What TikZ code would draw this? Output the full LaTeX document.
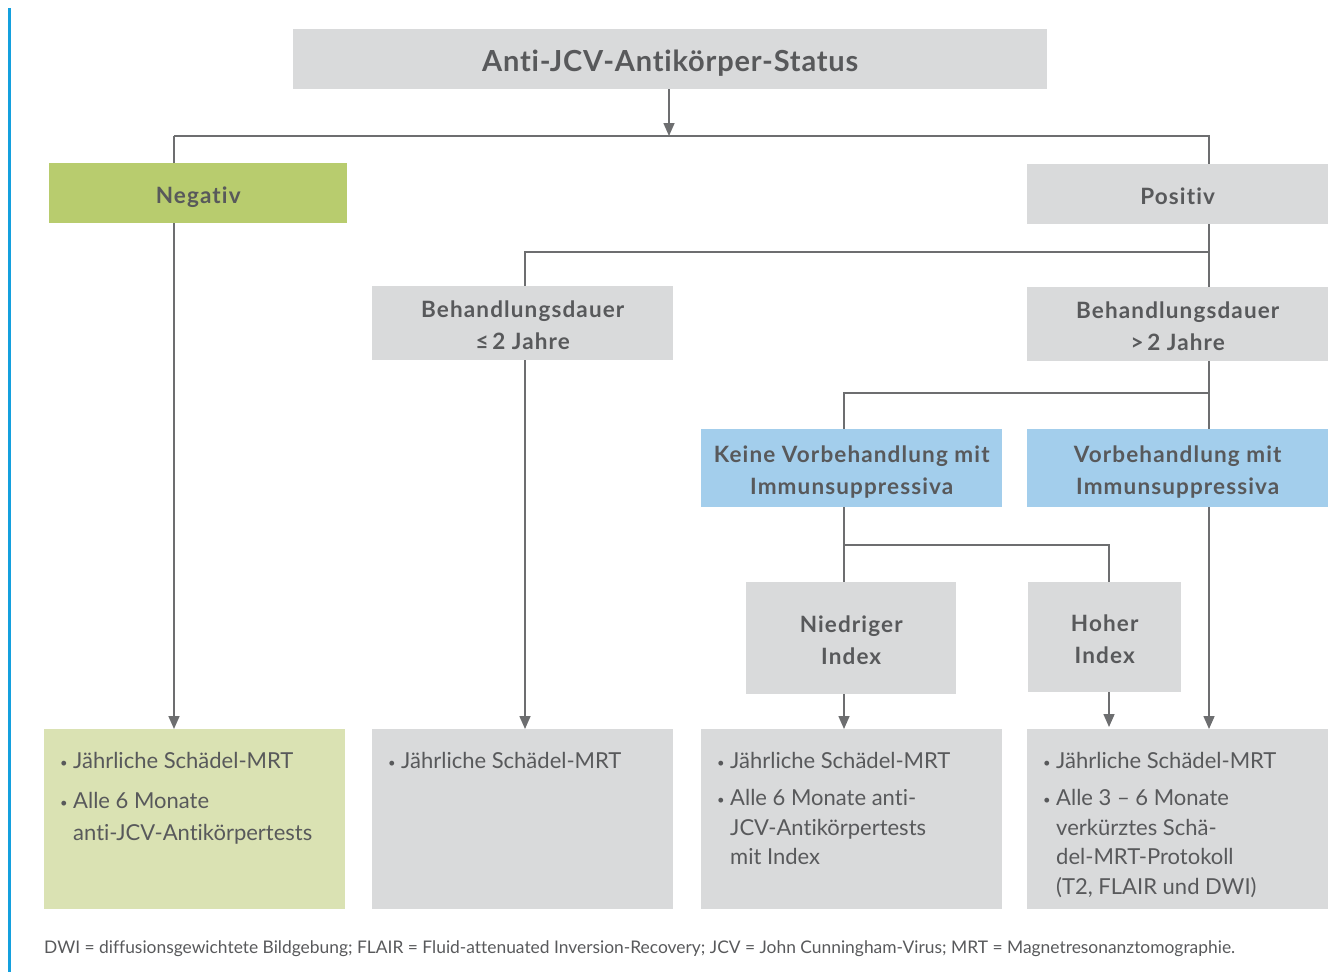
\documentclass[tikz,border=0pt]{standalone}
\usepackage{fontspec}
\setmainfont{Lato}[Ligatures=NoCommon]
\usetikzlibrary{arrows.meta,backgrounds}
\definecolor{boxgray}{HTML}{D9DADB}
\definecolor{boxgreen}{HTML}{B8CC6E}
\definecolor{lightgreen}{HTML}{DAE2B3}
\definecolor{boxblue}{HTML}{A3CEEC}
\definecolor{txt}{HTML}{58595B}
\definecolor{linec}{HTML}{6D6E70}
\definecolor{bar}{HTML}{14A0DE}
\newcommand{\bul}{\makebox[13pt][l]{\raisebox{1pt}{\fontsize{13}{13}\selectfont •}}}
\newcommand{\ind}{\hspace*{13pt}}
\newcommand{\hs}{\rule{0pt}{27pt}}
\newcommand{\ds}{\rule[-6pt]{0pt}{6pt}}
\tikzset{
  x=1pt,y=-1pt,
  box/.style={fill=boxgray, inner sep=0pt, align=center, anchor=north west, text=txt,
    font=\bfseries\fontsize{22.5}{32}\selectfont\addfontfeatures{LetterSpace=5}},
  res/.style={fill=boxgray, inner sep=0pt, anchor=north west, minimum width=301pt, minimum height=180pt},
  restext/.style={inner sep=0pt, anchor=north west, align=left, text=txt,
    font=\fontsize{22}{29.5}\selectfont},
  ln/.style={draw=linec, line width=1.6pt},
  arr/.style={ln, -{Triangle[width=11pt,length=13pt]}},
}
\begin{document}
\begin{tikzpicture}
\useasboundingbox (0,0) rectangle (1329,972);
\fill[bar] (8,8) rectangle (11,972);

\node[box, minimum width=754pt, minimum height=60pt, font=\bfseries\fontsize{29}{32}\selectfont\addfontfeatures{LetterSpace=2.8}] (top) at (293,29) {\rule{0pt}{33.5pt}Anti-JCV-Antikörper-Status\rule[-8pt]{0pt}{8pt}};
\node[box, fill=boxgreen, minimum width=298pt, minimum height=60pt] (neg) at (49,163) {\hs Negativ\ds};
\node[box, minimum width=301pt, minimum height=60pt] (pos) at (1027,164) {\hs Positiv\ds};
\node[box, minimum width=301pt, minimum height=74pt] (le2) at (372,286) {\hs Behandlungsdauer\\≤\,2 Jahre\ds};
\node[box, minimum width=301pt, minimum height=74pt] (gt2) at (1027,287) {\hs Behandlungsdauer\\>\,2 Jahre\ds};
\node[box, fill=boxblue, minimum width=301pt, minimum height=78pt] (keine) at (701,429) {\hs Keine Vorbehandlung mit\\Immunsuppressiva\ds};
\node[box, fill=boxblue, minimum width=301pt, minimum height=78pt] (vor) at (1027,429) {\hs Vorbehandlung mit\\Immunsuppressiva\ds};
\node[box, minimum width=210pt, minimum height=112pt] (nied) at (746,582) {\hs Niedriger\\Index\ds};
\node[box, minimum width=153pt, minimum height=110pt] (hoh) at (1028,582) {\hs Hoher\\Index\ds};

\node[res, fill=lightgreen] (r1) at (44,729) {};
\node[res] (r2) at (372,729) {};
\node[res] (r3) at (701,729) {};
\node[res] (r4) at (1027,729) {};

\node[restext] (t1) at (60,752.5) {\bul Jährliche Schädel-MRT\\[10.5pt]\bul Alle 6 Monate\\[2.5pt]\ind anti-JCV-Antikörpertests};
\node[restext] (t2) at (388,752.5) {\bul Jährliche Schädel-MRT};
\node[restext] (t3) at (717,752.5) {\bul Jährliche Schädel-MRT\\[7.5pt]\bul Alle 6 Monate anti-\\\ind JCV-Antikörpertests\\\ind mit Index};
\node[restext] (t4) at (1043,752.5) {\bul Jährliche Schädel-MRT\\[7.5pt]\bul Alle 3 – 6 Monate\\\ind verkürztes Schä-\\\ind del-MRT-Protokoll\\\ind (T2, FLAIR und DWI)};

\node[inner sep=0pt, anchor=base west, text=txt, font=\fontsize{17.4}{18}\selectfont] (foot) at (44,953)
  {DWI = diffusionsgewichtete Bildgebung; FLAIR = Fluid-attenuated Inversion-Recovery; JCV = John Cunningham-Virus; MRT = Magnetresonanztomographie.};

\coordinate (a) at (174,136);
\coordinate (b) at (1209,136);
\coordinate (c) at (669,136);
\coordinate (d) at (1209,252);
\coordinate (e) at (525,252);
\coordinate (f) at (1209,393);
\coordinate (g) at (844,393);
\coordinate (h) at (844,545);
\coordinate (i) at (1109,545);

\begin{pgfonlayer}{background}
\draw[arr] (c |- top.south) -- (c);
\draw[ln] (a) -- (b) -- (b |- pos.north);
\draw[arr] (a) -- (a |- r1.north);
\draw[ln] (d |- pos.south) -- (d |- gt2.north);
\draw[ln] (e |- le2.north) -- (e) -- (d);
\draw[arr] (e |- le2.south) -- (e |- r2.north);
\draw[ln] (d |- gt2.south) -- (d |- vor.north);
\draw[ln] (g |- keine.north) -- (g) -- (f);
\draw[arr] (d |- vor.south) -- (d |- r4.north);
\draw[ln] (g |- keine.south) -- (g |- nied.north);
\draw[ln] (h) -- (i) -- (i |- hoh.north);
\draw[arr] (g |- nied.south) -- (g |- r3.north);
\draw[arr] (i |- hoh.south) -- ([yshift=2pt]i |- r4.north);
\end{pgfonlayer}
\end{tikzpicture}
\end{document}
